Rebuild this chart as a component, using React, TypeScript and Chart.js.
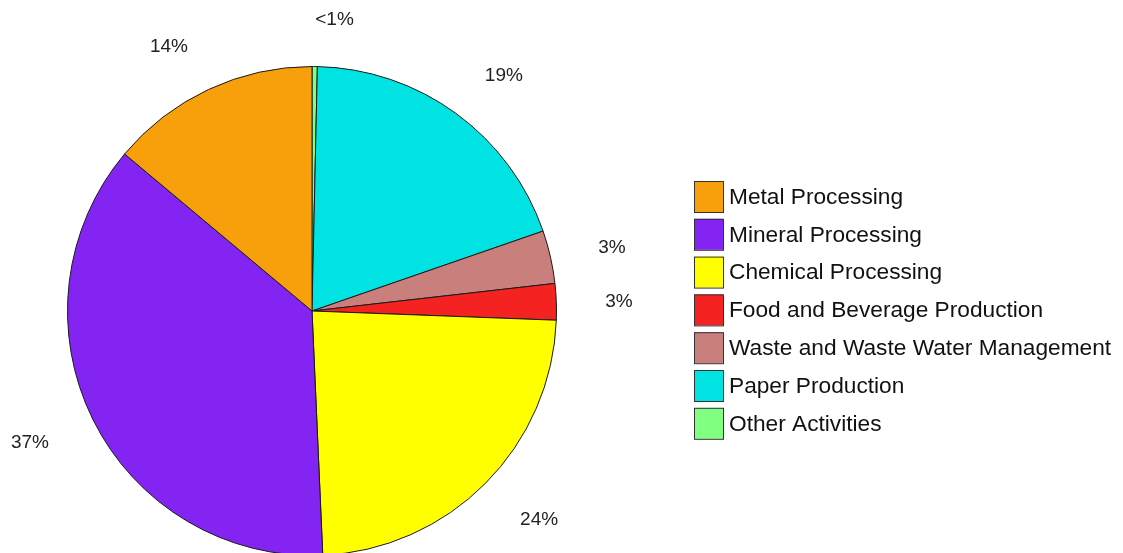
import React, { useEffect, useRef } from "react";
import { Chart, registerables } from "chart.js";

Chart.register(...registerables);

const categories = [
  "Metal Processing",
  "Mineral Processing",
  "Chemical Processing",
  "Food and Beverage Production",
  "Waste and Waste Water Management",
  "Paper Production",
  "Other Activities",
];
const shares = [13.9, 36.8, 23.7, 2.4, 3.5, 19.35, 0.35];
const pctLabels = ["14%", "37%", "24%", "3%", "3%", "19%", "<1%"];
const colors = ["#F8A00B", "#8424F3", "#FFFF00", "#F52222", "#C97F7B", "#00E3E3", "#80FF80"];

// Drawn clockwise in Chart.js; reverse so it reads counter-clockwise like the reference
const chartLabels = [...categories].reverse();
const chartValues = [...shares].reverse();
const chartColors = [...colors].reverse();
const chartPct = [...pctLabels].reverse();

const pctLabelPlugin = {
  id: "pctLabels",
  afterDatasetsDraw(chart: any) {
    const ctx = chart.ctx;
    const meta = chart.getDatasetMeta(0);
    ctx.save();
    ctx.font = '19px "Liberation Sans", Arial, sans-serif';
    ctx.fillStyle = "#222222";
    ctx.textBaseline = "middle";
    meta.data.forEach((arc: any, i: number) => {
      const p = arc.getProps(["x", "y", "startAngle", "endAngle", "outerRadius"], true);
      const mid = (p.startAngle + p.endAngle) / 2;
      const r = p.outerRadius * 1.2;
      const px = p.x + Math.cos(mid) * r;
      const py = p.y + Math.sin(mid) * r + 2;
      ctx.textAlign = Math.cos(mid) < 0 ? "right" : "left";
      ctx.fillText(chartPct[i], px, py);
    });
    ctx.restore();
  },
};

const legendPlugin = {
  id: "sideLegend",
  afterDraw(chart: any) {
    const ctx = chart.ctx;
    ctx.save();
    const x0 = 694;
    const y0 = 181;
    const step = 37.8;
    const bw = 29;
    const bh = 31;
    ctx.font = '22.7px "Liberation Sans", Arial, sans-serif';
    ctx.textBaseline = "middle";
    ctx.textAlign = "left";
    categories.forEach((name, i) => {
      const y = y0 + i * step;
      ctx.fillStyle = colors[i];
      ctx.fillRect(x0, y, bw, bh);
      ctx.strokeStyle = "#333333";
      ctx.lineWidth = 1;
      ctx.strokeRect(x0 + 0.5, y + 0.5, bw, bh);
      ctx.fillStyle = "#111111";
      ctx.fillText(name, x0 + 35, y + bh / 2 + 1);
    });
    ctx.restore();
  },
};

export default function App() {
  const canvasRef = useRef<HTMLCanvasElement | null>(null);

  useEffect(() => {
    if (!canvasRef.current) return;
    const chart = new Chart(canvasRef.current, {
      type: "pie",
      data: {
        labels: chartLabels,
        datasets: [
          {
            data: chartValues,
            backgroundColor: chartColors,
            borderColor: "#1a1a1a",
            borderWidth: 1,
          },
        ],
      },
      options: {
        responsive: false,
        animation: false,
        layout: { padding: { left: 67, right: 566, top: 66, bottom: 64 } },
        plugins: {
          legend: { display: false },
          tooltip: { enabled: false },
        },
      },
      plugins: [pctLabelPlugin, legendPlugin],
    });
    return () => chart.destroy();
  }, []);

  return (
    <div
      style={{
        position: "fixed",
        left: 0,
        top: 0,
        width: 1123,
        height: 553,
        overflow: "hidden",
        background: "#ffffff",
      }}
    >
      <canvas ref={canvasRef} width={1123} height={620} style={{ display: "block" }} />
    </div>
  );
}
